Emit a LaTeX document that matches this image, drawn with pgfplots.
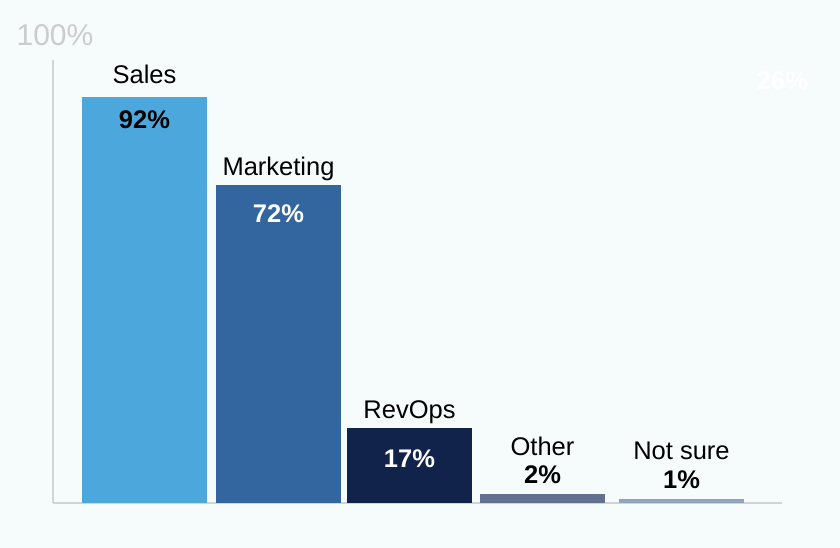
\documentclass[border=0pt]{standalone}
\usepackage{pgfplots}
\pgfplotsset{compat=1.18}
\usepackage{fontspec}
\setmainfont{Liberation Sans}
\definecolor{bg}{RGB}{246,252,252}
\definecolor{axcol}{RGB}{208,212,216}
\definecolor{c1}{RGB}{75,167,220}
\definecolor{c2}{RGB}{51,102,158}
\definecolor{c3}{RGB}{17,34,75}
\definecolor{c4}{RGB}{99,112,143}
\definecolor{c5}{RGB}{148,163,189}
\definecolor{tgray}{RGB}{204,204,204}
\newcommand{\lbl}{\fontsize{25.5}{30}\selectfont}
\newcommand{\val}{\fontsize{25.5}{30}\selectfont\bfseries}
\begin{document}
\begin{tikzpicture}[x=1pt,y=1pt]
\fill[bg] (0,0) rectangle (840,548);
\node[anchor=base, text=tgray, font=\fontsize{30}{34}\selectfont, inner sep=0pt] at (55,502) {100\%};
\node[anchor=base, text=white, font=\val, inner sep=0pt] at (782.5,458) {26\%};
\begin{axis}[
  at={(53pt,45pt)}, anchor=south west,
  scale only axis, width=729pt, height=443pt,
  xmin=53, xmax=782, ymin=0, ymax=100.45,
  axis x line=bottom, axis y line=left,
  axis line style={draw=axcol, line width=1.3pt, -},
  xtick=\empty, ytick=\empty,
  clip=false,
  ybar, bar width=125,
]
\addplot[ybar, bar shift=0pt, fill=c1, draw=none] coordinates {(144.5,92)};
\addplot[ybar, bar shift=0pt, fill=c2, draw=none] coordinates {(278.5,72)};
\addplot[ybar, bar shift=0pt, fill=c3, draw=none] coordinates {(409.5,17)};
\addplot[ybar, bar shift=0pt, fill=c4, draw=none] coordinates {(542.5,2)};
\addplot[ybar, bar shift=0pt, fill=c5, draw=none] coordinates {(681.5,1)};
% labels
\node[anchor=base, font=\lbl, inner sep=0pt, yshift=14pt] at (axis cs:144.5,92) {Sales};
\node[anchor=base, font=\val, inner sep=0pt, yshift=-31pt] at (axis cs:144.5,92) {92\%};
\node[anchor=base, font=\lbl, inner sep=0pt, yshift=10pt] at (axis cs:278.5,72) {Marketing};
\node[anchor=base, font=\val, text=white, inner sep=0pt, yshift=-37pt] at (axis cs:278.5,72) {72\%};
\node[anchor=base, font=\lbl, inner sep=0pt, yshift=10pt] at (axis cs:409.5,17) {RevOps};
\node[anchor=base, font=\val, text=white, inner sep=0pt, yshift=-39pt] at (axis cs:409.5,17) {17\%};
\node[anchor=base, font=\lbl, inner sep=0pt, yshift=39pt] at (axis cs:542.5,2) {Other};
\node[anchor=base, font=\val, inner sep=0pt, yshift=11pt] at (axis cs:542.5,2) {2\%};
\node[anchor=base, font=\lbl, inner sep=0pt, yshift=39pt] at (axis cs:681.5,1) {Not sure};
\node[anchor=base, font=\val, inner sep=0pt, yshift=10pt] at (axis cs:681.5,1) {1\%};
\end{axis}
\pgfresetboundingbox
\useasboundingbox (0,0) rectangle (840,548);
\end{tikzpicture}
\end{document}
